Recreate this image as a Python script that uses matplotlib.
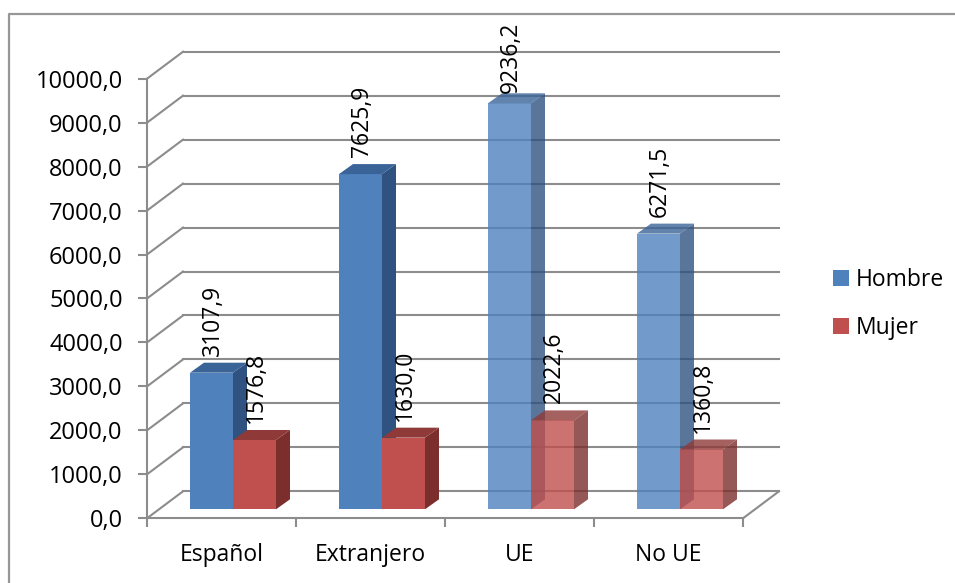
import matplotlib
matplotlib.use('Agg')
import matplotlib.pyplot as plt
from matplotlib.lines import Line2D
from matplotlib.patches import Patch

categories = ['Español', 'Extranjero', 'UE', 'No UE']
hombre = [3107.9, 7625.9, 9236.2, 6271.5]
mujer = [1576.8, 1630.0, 2022.6, 1360.8]
y_ticks = [0, 1000, 2000, 3000, 4000, 5000, 6000, 7000, 8000, 9000, 10000]
# last two groups are drawn see-through
group_alpha = [1, 1, 0.8, 0.8]

W, H = 955, 583
GRAY = '#8c8c8c'
FONT = 16.5

# 3d look, in data units (one group is 149 px wide, 1000 is 44 px high)
WALL_DX = 36 / 149
WALL_DY = 27 / 44 * 1000
BAR_DX = 14 / 149
BAR_DY = 10 / 44 * 1000
FLOOR_Y = 9 / 44 * 1000
BAR_W = 43 / 149
BAR_START = 43 / 149

BLUE = ('#4f81bd', '#2f5280', '#3a6497')
RED = ('#c0504d', '#7b2e2c', '#8f3a38')

plt.rcParams['font.family'] = ['Open Sans', 'DejaVu Sans']

fig = plt.figure(figsize=(W / 100, H / 100), dpi=100)
ax = fig.add_axes([147 / W, 1 - 518.3 / H, 596 / W, 439.6 / H])
ax.set_xlim(0, 4)
ax.set_ylim(0, 10000)
ax.patch.set_visible(False)


def draw_bars(values, x_shift, colors, order):
    front, side, top = colors
    xs = [i + BAR_START + x_shift for i in range(len(values))]
    for x, v, a in zip(xs, values, group_alpha):
        y0 = FLOOR_Y
        y1 = FLOOR_Y + v
        ax.bar(x, v, BAR_W, bottom=y0, align='edge', color=front, alpha=a, zorder=order, linewidth=0)
        ax.fill([x + BAR_W, x + BAR_W + BAR_DX, x + BAR_W + BAR_DX, x + BAR_W],
                [y0, y0 + BAR_DY, y1 + BAR_DY, y1],
                color=side, alpha=a, zorder=order, linewidth=0, clip_on=False)
        ax.fill([x, x + BAR_DX, x + BAR_W + BAR_DX, x + BAR_W],
                [y1, y1 + BAR_DY, y1 + BAR_DY, y1],
                color=top, alpha=a, zorder=order, linewidth=0, clip_on=False)
        # the tallest label is pushed down by the chart edge
        pad = 0 if v > 9000 else 5
        ax.annotate(f'{v:.1f}'.replace('.', ','), (x + BAR_W / 2, y1 + BAR_DY),
                    xytext=(1, pad), textcoords='offset points', rotation=90,
                    ha='center', va='bottom', fontsize=FONT, color='black',
                    annotation_clip=False, zorder=10)


# back wall, side wall and floor
for t in y_ticks:
    ax.plot([0, WALL_DX], [t, t + WALL_DY], color=GRAY, lw=1.5, zorder=1, clip_on=False)
    ax.plot([WALL_DX, 4 + WALL_DX], [t + WALL_DY, t + WALL_DY], color=GRAY, lw=1.5, zorder=1, clip_on=False)
ax.plot([4, 4 + WALL_DX], [0, WALL_DY], color=GRAY, lw=1.5, zorder=1, clip_on=False)

draw_bars(hombre, 0, BLUE, 3)
draw_bars(mujer, BAR_W, RED, 4)

for name in ['top', 'right']:
    ax.spines[name].set_visible(False)
for name in ['left', 'bottom']:
    ax.spines[name].set_color(GRAY)
    ax.spines[name].set_linewidth(1.5)

ax.set_yticks(y_ticks)
ax.set_yticklabels([f'{t:.1f}'.replace('.', ',') for t in y_ticks], fontsize=17)
ax.set_xticks(range(5))
ax.set_xticklabels([])
ax.set_xticks([i + 0.5 for i in range(4)], categories, minor=True, fontsize=FONT)
ax.tick_params(axis='y', length=6.5, width=1.5, color=GRAY, pad=11, labelcolor='black')
ax.tick_params(axis='x', which='major', length=6.5, width=1.5, color=GRAY)
ax.tick_params(axis='x', which='minor', length=0, pad=18, labelcolor='black')

handles = [Patch(color=BLUE[0], linewidth=0), Patch(color=RED[0], linewidth=0)]
ax.legend(handles, ['Hombre', 'Mujer'], loc='upper left', frameon=False, fontsize=FONT,
          bbox_to_anchor=(833 / W, 1 - 268 / H), bbox_transform=fig.transFigure,
          handlelength=0.7, handleheight=0.7, handletextpad=0.3, labelspacing=1.04,
          borderpad=0, borderaxespad=0)

# outer frame, open on the right and at the bottom
fig.add_artist(Line2D([9 / W, 9 / W, 1], [0, 1 - 14 / H, 1 - 14 / H], color='#979797', lw=1.6))

fig.savefig('out.png', dpi=100)
